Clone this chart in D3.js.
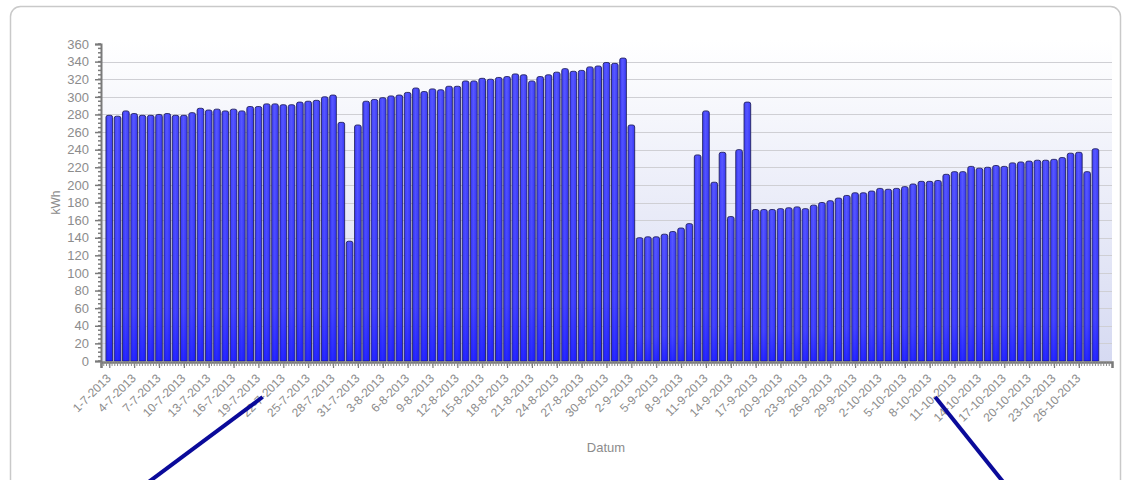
<!DOCTYPE html>
<html><head><meta charset="utf-8">
<script src="https://cdn.jsdelivr.net/npm/d3@7"></script>
<style>
html,body{margin:0;padding:0;background:#fff;}
svg{display:block;font-family:"Liberation Sans",Arial,sans-serif;}
</style></head>
<body>
<svg id="chart" width="1128" height="480"></svg>
<script>
// ---- data ----
const firstDay = "2013-07-01";
const values = [
 279,278,284,281,279,279,280,281,279,279,282,287,285,286,284,286,284,289,289,292,
 292,291,291,294,295,296,300,302,271,136,268,295,297,299,301,302,305,310,306,309,
 308,312,312,318,318,321,320,322,323,326,325,318,323,325,328,332,329,330,334,335,
 339,338,344,268,140,141,141,144,147,151,156,234,284,203,237,164,240,294,172,172,
 172,173,174,175,173,177,180,182,185,188,191,191,193,196,195,196,198,201,204,204,
 205,212,215,215,221,219,220,222,221,225,226,227,228,228,229,231,236,237,215,241
];
const yTicks = d3.range(0, 361, 20);
const yTitle = "kWh";
const xTitle = "Datum";
const pointerDates = ["2013-07-19T12:00:00Z", "2013-10-08T16:00:00Z"];

// ---- layout ----
const svg = d3.select("#chart");
const W = 1128, H = 480;
const m = {left:101, right:16, top:44, bottom:119};
const x0 = m.left, x1 = W - m.right, y0 = H - m.bottom, y1 = m.top;

const parse = d3.utcParse("%Y-%m-%d");
const start = parse(firstDay);
const dates = values.map((v,i) => d3.utcDay.offset(start, i));
const data = dates.map((d,i) => ({date:d, value:values[i]}));

const x = d3.scaleUtc()
  .domain([d3.utcDay.offset(start,-1), d3.utcDay.offset(dates[dates.length-1], 2)])
  .range([x0, x1]);
const y = d3.scaleLinear().domain([0,360]).range([y0, y1]);
const slot = x(d3.utcDay.offset(start,1)) - x(start);
const bw = slot * 0.8;

const defs = svg.append("defs");
const bg = defs.append("linearGradient").attr("id","bg").attr("x1",0).attr("y1",0).attr("x2",0).attr("y2",1);
bg.append("stop").attr("offset","0%").attr("stop-color","#ffffff");
bg.append("stop").attr("offset","100%").attr("stop-color","#d6daf2");
const bar = defs.append("linearGradient").attr("id","bar").attr("x1",0).attr("y1",0).attr("x2",1).attr("y2",0);
bar.append("stop").attr("offset","0%").attr("stop-color","#3c3cfa");
bar.append("stop").attr("offset","45%").attr("stop-color","#5858ff");
bar.append("stop").attr("offset","100%").attr("stop-color","#3838f6");
const barV = defs.append("linearGradient").attr("id","barV").attr("x1",0).attr("y1",0).attr("x2",0).attr("y2",1);
barV.append("stop").attr("offset","0%").attr("stop-color","#0000ff").attr("stop-opacity",0.0);
barV.append("stop").attr("offset","80%").attr("stop-color","#0000ff").attr("stop-opacity",0.2);
barV.append("stop").attr("offset","100%").attr("stop-color","#0000ff").attr("stop-opacity",0.55);

// frame
svg.append("rect").attr("x",10.5).attr("y",6.5).attr("width",1110).attr("height",490)
  .attr("rx",10).attr("fill","#fff").attr("stroke","#c9c9c9").attr("stroke-width",1.5);

// plot background
svg.append("rect").attr("x",x0).attr("y",y1-4).attr("width",x1-x0).attr("height",y0-y1+4)
  .attr("fill","url(#bg)");

// grid
svg.append("g").selectAll("line").data(yTicks.filter(t=>t>0 && t<360)).join("line")
  .attr("x1",x0).attr("x2",x1).attr("y1",d=>Math.round(y(d))+0.5).attr("y2",d=>Math.round(y(d))+0.5)
  .attr("stroke","#cfcfd4").attr("stroke-width",1);

// bars
const gb = svg.append("g");
gb.selectAll("path").data(data).join("path")
  .attr("d", d => {
    const cx = x(d.date), l = cx - bw/2, r = cx + bw/2, t = y(d.value), b = y0, rr = 2;
    return `M${l},${b}V${t+rr}Q${l},${t} ${l+rr},${t}H${r-rr}Q${r},${t} ${r},${t+rr}V${b}Z`;
  })
  .attr("fill","url(#bar)").attr("stroke","#23235e").attr("stroke-width",0.9);
gb.selectAll("rect.sh").data(data).join("rect").attr("class","sh")
  .attr("x", d=>x(d.date)-bw/2+0.5).attr("width", bw-1)
  .attr("y", d=>y(d.value)+2).attr("height", d=>y0-y(d.value)-2)
  .attr("fill","url(#barV)");

// y axis
const ya = svg.append("g").attr("transform",`translate(${x0},0)`);
ya.call(d3.axisLeft(y).tickValues(yTicks).tickSize(6).tickPadding(6).tickFormat(d3.format("d")));
ya.append("g").selectAll("line").data(d3.range(0,361,5)).join("line")
  .attr("x1",-3).attr("x2",0).attr("y1",d=>y(d)).attr("y2",d=>y(d)).attr("stroke","#7a7a7a").attr("stroke-width",1.5);
ya.select(".domain").attr("stroke","#7a7a7a").attr("stroke-width",2);
ya.selectAll(".tick line").attr("stroke","#7a7a7a").attr("stroke-width",1.5);
ya.selectAll(".tick text").attr("fill","#8c8c8c").attr("font-size",13);

// x axis
const xTickDates = d3.utcDay.range(start, d3.utcDay.offset(dates[dates.length-1],1), 3);
const xa = svg.append("g").attr("transform",`translate(0,${y0+1})`);
xa.call(d3.axisBottom(x).tickValues(xTickDates).tickSize(6).tickPadding(4)
  .tickFormat(d3.utcFormat("%-d-%-m-%Y")));
xa.append("g").selectAll("line").data(d3.utcHour.range(x.domain()[0], x.domain()[1], 8)).join("line")
  .attr("x1",d=>x(d)).attr("x2",d=>x(d)).attr("y1",0).attr("y2",4).attr("stroke","#8a8a8a").attr("stroke-width",1);
xa.select(".domain").attr("stroke","#7a7a7a").attr("stroke-width",2.5);
xa.selectAll(".tick line").attr("stroke","#7a7a7a").attr("stroke-width",1.2);
xa.selectAll(".tick text").attr("fill","#8c8c8c").attr("font-size",12)
  .attr("text-anchor","end").attr("x",0).attr("y",0).attr("dy","0.35em")
  .attr("transform","translate(-1,14) rotate(-45)");

// titles
svg.append("text").attr("transform",`translate(60,${(y0+y1)/2}) rotate(-90)`)
  .attr("text-anchor","middle").attr("fill","#8c8c8c").attr("font-size",12).text(yTitle);
svg.append("text").attr("x",606).attr("y",452).attr("text-anchor","middle")
  .attr("fill","#8c8c8c").attr("font-size",13).text(xTitle);

// pointer annotations
const ptr = [
  {top: new Date(pointerDates[0]), dx: -114},
  {top: new Date(pointerDates[1]), dx: 68}
];
svg.append("g").selectAll("line").data(ptr).join("line")
  .attr("x1", d=>x(d.top)).attr("y1", y0+36)
  .attr("x2", d=>x(d.top)+d.dx).attr("y2", H+2)
  .attr("stroke","#0a0a9a").attr("stroke-width",4);
</script>
</body></html>
